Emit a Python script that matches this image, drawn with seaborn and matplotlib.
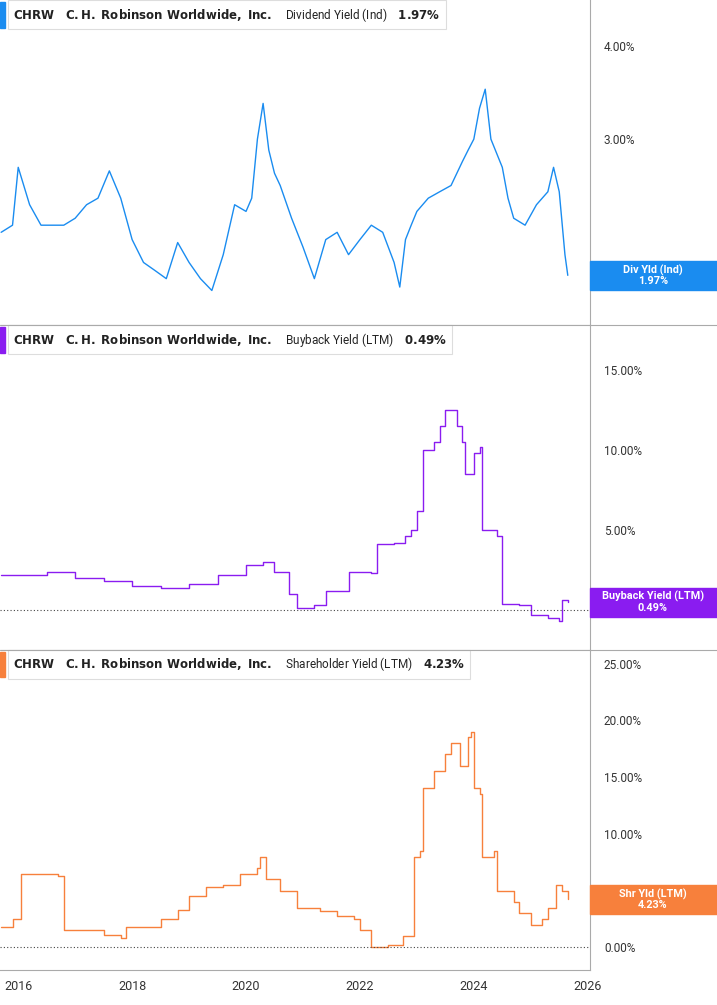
import numpy as np
import pandas as pd
import matplotlib
matplotlib.use("Agg")
import matplotlib.pyplot as plt
import matplotlib.ticker as mticker
import seaborn as sns

# data
div_t = [2015.70, 2015.90, 2016.00, 2016.20, 2016.40, 2016.60, 2016.80, 2017.00, 2017.20, 2017.40,
         2017.60, 2017.80, 2018.00, 2018.20, 2018.40, 2018.60, 2018.80, 2019.00, 2019.20, 2019.40,
         2019.60, 2019.80, 2020.00, 2020.10, 2020.20, 2020.30, 2020.40, 2020.50, 2020.60, 2020.80,
         2021.00, 2021.20, 2021.40, 2021.60, 2021.80, 2022.00, 2022.20, 2022.40, 2022.60, 2022.70,
         2022.80, 2022.90, 2023.00, 2023.20, 2023.40, 2023.60, 2023.80, 2023.90, 2024.00, 2024.10,
         2024.20, 2024.30, 2024.50, 2024.60, 2024.70, 2024.90, 2025.10, 2025.30, 2025.40, 2025.50,
         2025.60, 2025.65]
div_v = [2.25, 2.30, 2.75, 2.45, 2.30, 2.30, 2.30, 2.35, 2.45, 2.50,
         2.72, 2.50, 2.20, 2.05, 2.00, 1.95, 2.18, 2.05, 1.95, 1.88,
         2.10, 2.45, 2.40, 2.50, 3.00, 3.35, 2.90, 2.70, 2.60, 2.35,
         2.15, 1.95, 2.20, 2.25, 2.10, 2.20, 2.30, 2.25, 2.05, 1.90,
         2.20, 2.30, 2.40, 2.50, 2.55, 2.60, 2.80, 2.90, 3.00, 3.30,
         3.50, 3.00, 2.75, 2.50, 2.35, 2.30, 2.45, 2.55, 2.75, 2.55,
         2.10, 1.97]

bb_t = [2015.70, 2016.50, 2017.00, 2017.50, 2018.00, 2018.50, 2019.00, 2019.50, 2020.00, 2020.30,
        2020.50, 2020.75, 2020.90, 2021.20, 2021.40, 2021.70, 2021.80, 2022.20, 2022.30, 2022.60,
        2022.80, 2022.90, 2023.00, 2023.10, 2023.30, 2023.40, 2023.50, 2023.70, 2023.80, 2023.85,
        2024.00, 2024.10, 2024.15, 2024.40, 2024.50, 2024.80, 2025.00, 2025.30, 2025.50, 2025.55,
        2025.65]
bb_v = [2.2, 2.4, 2.0, 1.8, 1.5, 1.4, 1.6, 2.2, 2.8, 3.0,
        2.4, 1.0, 0.1, 0.3, 1.2, 1.2, 2.4, 2.3, 4.1, 4.2,
        4.6, 5.0, 6.2, 10.0, 10.5, 11.5, 12.5, 11.5, 10.5, 8.5,
        9.8, 10.2, 5.0, 4.6, 0.4, 0.3, -0.3, -0.5, -0.7, 0.6,
        0.49]

sh_t = [2015.70, 2015.90, 2016.05, 2016.70, 2016.80, 2017.20, 2017.50, 2017.80, 2017.90, 2018.30,
        2018.50, 2018.80, 2019.00, 2019.30, 2019.60, 2019.90, 2020.20, 2020.25, 2020.35, 2020.60,
        2020.90, 2021.30, 2021.60, 2021.90, 2022.00, 2022.20, 2022.50, 2022.75, 2022.95, 2023.05,
        2023.10, 2023.30, 2023.50, 2023.60, 2023.75, 2023.90, 2023.95, 2024.00, 2024.10, 2024.15,
        2024.35, 2024.40, 2024.70, 2024.80, 2025.00, 2025.20, 2025.30, 2025.45, 2025.55, 2025.65]
sh_v = [1.8, 2.5, 6.5, 6.3, 1.5, 1.5, 1.1, 0.8, 1.8, 1.8,
        2.5, 3.3, 4.5, 5.3, 5.5, 6.5, 7.0, 8.0, 6.0, 5.0,
        3.5, 3.2, 2.8, 2.5, 1.5, 0.0, 0.2, 1.0, 8.0, 8.5,
        14.0, 15.5, 17.0, 18.0, 16.0, 18.5, 19.0, 14.0, 13.5, 8.0,
        8.5, 5.0, 4.0, 3.0, 2.0, 2.5, 3.5, 5.5, 5.0, 4.23]

years = [2016, 2018, 2020, 2022, 2024, 2026]

# ticks whose labels sit behind the value tag are left out
panels = [
    dict(t=div_t, v=div_v, color="#1a8cf0", name="Dividend Yield (Ind)", last="1.97%",
         tag="Div Yld (Ind)", ticks=[3, 4], ylim=(1.69, 4.61), log=True, steps=False,
         rect=[0, 1 - 325 / 1005, 590 / 717, 325 / 1005]),
    dict(t=bb_t, v=bb_v, color="#8a1cf0", name="Buyback Yield (LTM)", last="0.49%",
         tag="Buyback Yield (LTM)", ticks=[5, 10, 15], ylim=(-2.5, 17.8), log=False, steps=True,
         rect=[0, 1 - 650 / 1005, 590 / 717, 325 / 1005]),
    dict(t=sh_t, v=sh_v, color="#f7803c", name="Shareholder Yield (LTM)", last="4.23%",
         tag="Shr Yld (LTM)", ticks=[0, 10, 15, 20, 25], ylim=(-2.0, 26.2), log=False, steps=True,
         rect=[0, 1 - 970 / 1005, 590 / 717, 320 / 1005]),
]

plt.rcParams["font.family"] = "Roboto"
fig = plt.figure(figsize=(7.17, 10.05), dpi=100)
sns.set_style("white", {"font.family": "Roboto"})

for i, p in enumerate(panels):
    ax = fig.add_axes(p["rect"])
    df = pd.DataFrame({"t": p["t"], "v": p["v"]})
    kw = dict(drawstyle="steps-post") if p["steps"] else {}
    sns.lineplot(data=df, x="t", y="v", ax=ax, color=p["color"], linewidth=1.0, **kw)
    ax.set_xlim(2015.68, 2026.04)
    if p["log"]:
        ax.set_yscale("log")
    ax.set_ylim(*p["ylim"])
    ax.yaxis.tick_right()
    ax.set_yticks(p["ticks"])
    ax.yaxis.set_minor_locator(mticker.NullLocator())
    ax.set_yticklabels([f"{t:.2f}%" for t in p["ticks"]], fontsize=8.5, color="#333333")
    ax.tick_params(axis="y", length=0, pad=10)
    ax.set_xlabel("")
    ax.set_ylabel("")
    for s in ["top", "left"]:
        ax.spines[s].set_visible(False)
    ax.spines["right"].set_color("#aaaaaa")
    ax.spines["bottom"].set_color("#aaaaaa")
    if not p["log"]:
        ax.axhline(0, color="#444444", linestyle=(0, (1, 2)), linewidth=0.8)
    if i < 2:
        ax.set_xticks([])
    else:
        ax.set_xticks(years)
        ax.set_xticklabels([str(y) for y in years], fontsize=9, color="#333333")
        ax.tick_params(axis="x", length=4, color="#aaaaaa")

    # legend box
    ax.text(0.022, 0.955, f"$\\bf{{CHRW}}$    $\\bf{{C.H.\\ Robinson\\ Worldwide,\\ Inc.}}$    "
            f"{p['name']}    $\\bf{{{p['last'].replace('%', '\\%')}}}$",
            transform=ax.transAxes, fontsize=8.5, va="center", ha="left", color="#222222",
            bbox=dict(boxstyle="square,pad=0.45", fc="white", ec="#dddddd", lw=0.8))
    ax.add_patch(plt.Rectangle((0.0, 0.915), 0.008, 0.08, transform=ax.transAxes,
                               color=p["color"], clip_on=False, zorder=5))

    # last-value tag on the right
    yv = p["v"][-1]
    yfrac = ax.transAxes.inverted().transform(ax.transData.transform((2020, yv)))[1]
    ax.add_patch(plt.Rectangle((1.0, yfrac - 0.045), 127 / 590, 0.09, transform=ax.transAxes,
                               color=p["color"], clip_on=False, zorder=5))
    ax.text(1 + 63 / 590, yfrac, f"{p['tag']}\n{p['last']}", transform=ax.transAxes,
            ha="center", va="center", fontsize=7.8, color="white", fontweight="bold",
            zorder=6, linespacing=1.1)

# separator lines across full width
for yy in [325, 650]:
    fig.add_artist(plt.Line2D([0, 1], [1 - yy / 1005] * 2, color="#aaaaaa", lw=0.8))

fig.savefig("out.png", dpi=100)
